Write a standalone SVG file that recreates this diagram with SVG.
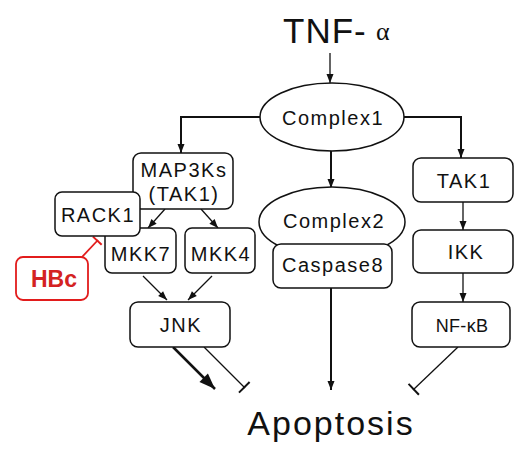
<svg xmlns="http://www.w3.org/2000/svg" width="525" height="450" viewBox="0 0 525 450">
<style>
.box{fill:#fff;stroke:#111;stroke-width:1.5}
.t{font-family:"Liberation Sans",Arial,sans-serif;font-size:20px;letter-spacing:1.5px;fill:#111;text-anchor:middle}
.c{fill:none;stroke:#111;stroke-width:1.3}
.ck{fill:none;stroke:#111;stroke-width:2}
</style>
<defs>
<marker id="a" markerUnits="userSpaceOnUse" markerWidth="10" markerHeight="8" refX="9" refY="4" orient="auto" overflow="visible"><path d="M0,0.5 L9,4 L0,7.5 z" fill="#111"/></marker>
<marker id="ab" markerUnits="userSpaceOnUse" markerWidth="18" markerHeight="14" refX="16" refY="6" orient="auto" overflow="visible"><path d="M0,0 L16,6 L0,12 z" fill="#111"/></marker>
<marker id="tb" markerUnits="userSpaceOnUse" markerWidth="4" markerHeight="16" refX="1" refY="0" orient="auto" overflow="visible"><path d="M0,-7.5 L0,7.5" stroke="#111" stroke-width="2"/></marker>
<marker id="tr" markerUnits="userSpaceOnUse" markerWidth="4" markerHeight="14" refX="1" refY="0" orient="auto" overflow="visible"><path d="M0,-6 L0,6" stroke="#e21c1c" stroke-width="2"/></marker>
</defs>
<g id="tnf"><text x="283" y="43" font-family="Liberation Sans,Arial,sans-serif" font-size="35" fill="#111" letter-spacing="1">TNF-</text><text x="376" y="40" font-family="Liberation Serif,serif" font-size="26" fill="#111">α</text></g>
<g id="connectors">
<line class="c" x1="330" y1="53" x2="330" y2="83" marker-end="url(#a)"/>
<polyline class="ck" points="260,117 181,117 181,153" marker-end="url(#a)"/>
<polyline class="ck" points="404,117 461,117 461,158" marker-end="url(#a)"/>
<line class="ck" x1="331" y1="150" x2="331" y2="188" marker-end="url(#a)"/>
<line class="c" x1="165" y1="209" x2="148" y2="228" marker-end="url(#a)"/>
<line class="c" x1="201" y1="209" x2="218" y2="228" marker-end="url(#a)"/>
<line class="c" x1="143" y1="276" x2="167" y2="300" marker-end="url(#a)"/>
<line class="c" x1="212" y1="276" x2="188" y2="300" marker-end="url(#a)"/>
<line class="c" x1="463" y1="202" x2="463" y2="230" marker-end="url(#a)"/>
<line class="c" x1="463" y1="273" x2="463" y2="302" marker-end="url(#a)"/>
<line class="ck" x1="331" y1="288" x2="331" y2="390" marker-end="url(#a)"/>
<line x1="173" y1="347" x2="215" y2="389" stroke="#111" stroke-width="2.5" marker-end="url(#ab)"/>
<line class="c" x1="204" y1="347" x2="245" y2="388" stroke-width="1.6" marker-end="url(#tb)"/>
<line class="c" x1="458" y1="347" x2="413" y2="390" stroke-width="1.6" marker-end="url(#tb)"/>
<line x1="82" y1="257" x2="98" y2="240" stroke="#e21c1c" stroke-width="1.8" marker-end="url(#tr)"/>
</g>
<g id="complex1"><ellipse class="box" cx="332" cy="117" rx="72" ry="34"/><text class="t" x="333" y="125">Complex1</text></g>
<g id="mkk7"><rect class="box" x="105" y="228" width="71" height="45" rx="7"/><text class="t" x="141" y="261">MKK7</text></g>
<g id="mkk4"><rect class="box" x="185" y="228" width="70" height="45" rx="7"/><text class="t" x="221" y="261">MKK4</text></g>
<g id="map3ks"><rect class="box" x="133" y="153" width="100" height="56" rx="8"/><text class="t" x="184" y="177">MAP3Ks</text><text class="t" x="184" y="201">(TAK1)</text></g>
<g id="rack1"><rect class="box" x="55" y="192" width="85" height="44" rx="7"/><text class="t" x="98" y="222">RACK1</text></g>
<g id="hbc"><rect x="16" y="257" width="72" height="43" rx="7" fill="#fff" stroke="#e21c1c" stroke-width="1.8"/><text x="54" y="287" font-family="Liberation Sans,Arial,sans-serif" font-size="23" font-weight="bold" fill="#d42222" text-anchor="middle">HBc</text></g>
<g id="jnk"><rect class="box" x="130" y="302" width="100" height="45" rx="8"/><text class="t" x="181" y="332">JNK</text></g>
<g id="complex2"><ellipse class="box" cx="332" cy="222" rx="73" ry="35"/><text class="t" x="334" y="228">Complex2</text></g>
<g id="caspase8"><rect class="box" x="273" y="244" width="119" height="44" rx="8"/><text class="t" x="333" y="272">Caspase8</text></g>
<g id="tak1"><rect class="box" x="413" y="158" width="100" height="44" rx="8"/><text class="t" x="464" y="188">TAK1</text></g>
<g id="ikk"><rect class="box" x="413" y="230" width="100" height="43" rx="8"/><text class="t" x="466" y="259">IKK</text></g>
<g id="nfkb"><rect class="box" x="412" y="302" width="98" height="45" rx="8"/><text class="t" x="462" y="332" style="font-size:18px;letter-spacing:0.3px">NF-κB</text></g>
<g id="apoptosis"><text x="331" y="435" font-family="Liberation Sans,Arial,sans-serif" font-size="34" letter-spacing="2" fill="#111" text-anchor="middle">Apoptosis</text></g>
</svg>
